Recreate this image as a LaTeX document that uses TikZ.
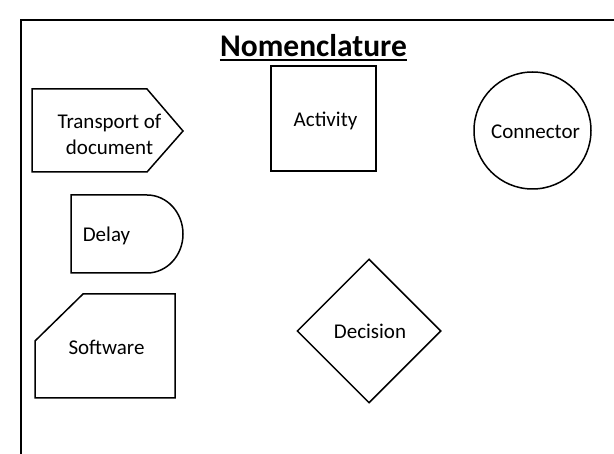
\documentclass[tikz,border=0pt]{standalone}
\usepackage{fontspec}
\setmainfont{Carlito}
\usetikzlibrary{shapes.geometric}
\begin{document}
\begin{tikzpicture}[x=1pt,y=-1pt,
  symb/.style={line width=1.5pt, line join=miter},
  lbl/.style={inner sep=0pt, font=\fontsize{21}{26}\selectfont, align=center},
  frameline/.style={line width=2pt}]
\useasboundingbox (0,0) rectangle (614,454);
% frame
\coordinate (fb) at (21,455);
\coordinate (ftl) at (21,20);
\coordinate (fr) at (615,20);
\draw[frameline] (fb) -- (ftl) -- (fr);
% title
\node[anchor=base, inner sep=0pt, font=\bfseries\fontsize{31.5}{36}\selectfont] (title) at (313.5,57) {Nomenclature};
\draw[line width=2pt] ([yshift=-3pt]title.base west) -- ([yshift=-3pt]title.base east);
% transport of document
\draw[symb] (32,89) -- (147,89) -- (183,131) -- (147,172) -- (32,172) -- cycle;
\node[lbl] (transport) at (109.5,134) {Transport of\\document};
% delay
\draw[symb] (147,195) -- (71,195) -- (71,273) -- (147,273) arc[start angle=90, end angle=-90, x radius=36, y radius=39] -- cycle;
\node[lbl, anchor=base] (delay) at (106.5,242) {Delay};
% software
\draw[symb] (83,294) -- (175,294) -- (175,398) -- (35,398) -- (35,341) -- cycle;
\node[lbl, anchor=base] (software) at (106.5,355) {Software};
% activity
\node[symb, draw, rectangle, minimum width=105pt, minimum height=105pt, inner sep=0pt] (activity) at (323.5,118.5) {};
\node[lbl, anchor=base] (activitytext) at (325.5,127) {Activity};
% connector
\node[symb, draw, circle, minimum size=117pt, inner sep=0pt] (connector) at (532.5,130.5) {};
\node[lbl, anchor=base] (connectortext) at (535.5,139) {Connector};
% decision
\node[symb, draw, diamond, aspect=1, minimum width=144pt, minimum height=144pt, inner sep=0pt] (decision) at (369,331) {};
\node[lbl, anchor=base] (decisiontext) at (370,339) {Decision};
\end{tikzpicture}
\end{document}
